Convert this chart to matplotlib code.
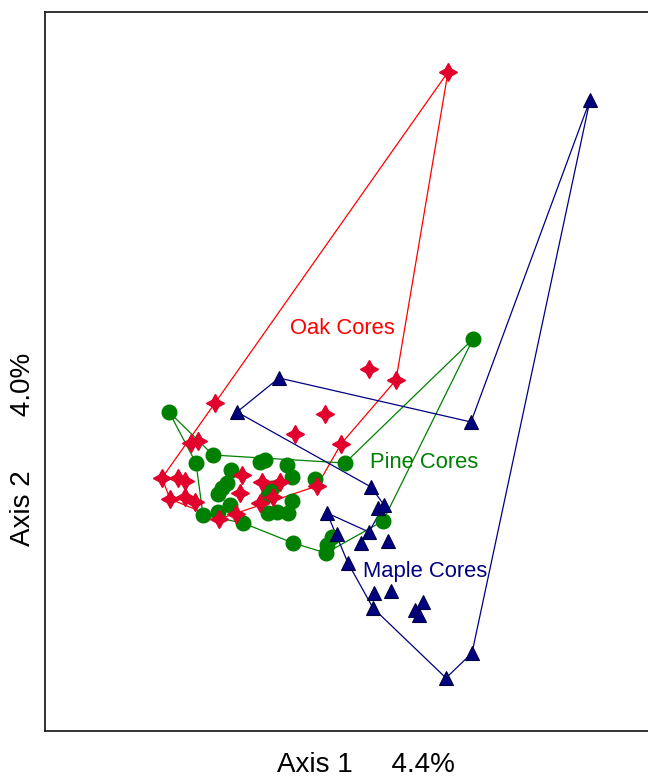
import matplotlib.pyplot as plt
import numpy as np

plt.rcParams['font.family'] = ['Liberation Sans', 'DejaVu Sans']

# ordination scores (axis 1, axis 2) for each core
oak_x = [448, 396, 369, 325, 341, 295, 215, 191, 198, 162, 178, 185, 170, 185, 195, 242, 240, 262, 280, 273, 260, 236, 219, 317]
oak_y = [709, 401, 412, 367, 337, 347, 378, 338, 340, 303, 303, 300, 282, 284, 279, 306, 288, 299, 299, 284, 278, 267, 262, 295]

pine_x = [473, 169, 345, 383, 213, 196, 231, 260, 265, 287, 292, 315, 227, 222, 218, 230, 218, 203, 243, 272, 268, 292, 268, 277, 288, 293, 326, 327, 332]
pine_y = [442, 369, 318, 260, 326, 318, 311, 319, 321, 316, 304, 302, 298, 293, 287, 276, 269, 266, 258, 293, 286, 280, 268, 269, 268, 238, 228, 236, 244]

maple_x = [590, 471, 279, 237, 371, 378, 384, 327, 337, 369, 361, 388, 348, 374, 391, 373, 423, 415, 419, 472, 446]
maple_y = [681, 359, 403, 369, 294, 273, 276, 268, 247, 249, 238, 240, 218, 188, 190, 173, 179, 171, 166, 128, 103]

# outline order for each group
oak_outline = [9, 6, 0, 1, 4, 23, 22, 12, 9]
pine_outline = [1, 4, 2, 0, 3, 26, 25, 18, 17, 5, 1]
maple_outline = [0, 1, 2, 3, 4, 6, 9, 7, 12, 15, 20, 19, 0]

OAK_LINE = '#ff0000'
OAK_FILL = '#e2002c'
PINE = '#008000'
MAPLE = '#000080'

fig = plt.figure(figsize=(6.48, 7.81), dpi=100)
ax = fig.add_axes([45 / 648, 50 / 781, 607 / 648, 719 / 781])


def draw_outline(xs, ys, order, color):
    px = np.array(xs)[order]
    py = np.array(ys)[order]
    ax.plot(px, py, color=color, lw=0.9, zorder=1)


draw_outline(oak_x, oak_y, oak_outline, OAK_LINE)
draw_outline(pine_x, pine_y, pine_outline, PINE)
draw_outline(maple_x, maple_y, maple_outline, MAPLE)

ax.plot(pine_x, pine_y, 'o', ms=10.5, color=PINE, mec=PINE, zorder=3)
ax.plot(oak_x, oak_y, marker=(4, 1, 0), ls='none', ms=13, color=OAK_FILL, mec=OAK_FILL, zorder=4)
ax.plot(maple_x, maple_y, '^', ms=9.5, color=MAPLE, mec='#000040', mew=0.8, zorder=5)

ax.text(342, 452, 'Oak Cores', color=OAK_LINE, fontsize=15.8, ha='center', va='center')
ax.text(424, 318, 'Pine Cores', color=PINE, fontsize=15.8, ha='center', va='center')
ax.text(425, 210, 'Maple Cores', color=MAPLE, fontsize=15.8, ha='center', va='center')

ax.set_xlim(45, 652)
ax.set_ylim(50, 769)
ax.set_xticks([])
ax.set_yticks([])
for side in ax.spines.values():
    side.set_linewidth(1.3)
    side.set_color('#222222')

fig.text(366 / 648, 1 - 765 / 781, 'Axis 1     4.4%', fontsize=20, ha='center', va='center')
fig.text(23 / 648, 1 - 449 / 781, 'Axis 2       4.0%', fontsize=20, ha='center', va='center', rotation=90)

fig.savefig('out.png', dpi=100)
